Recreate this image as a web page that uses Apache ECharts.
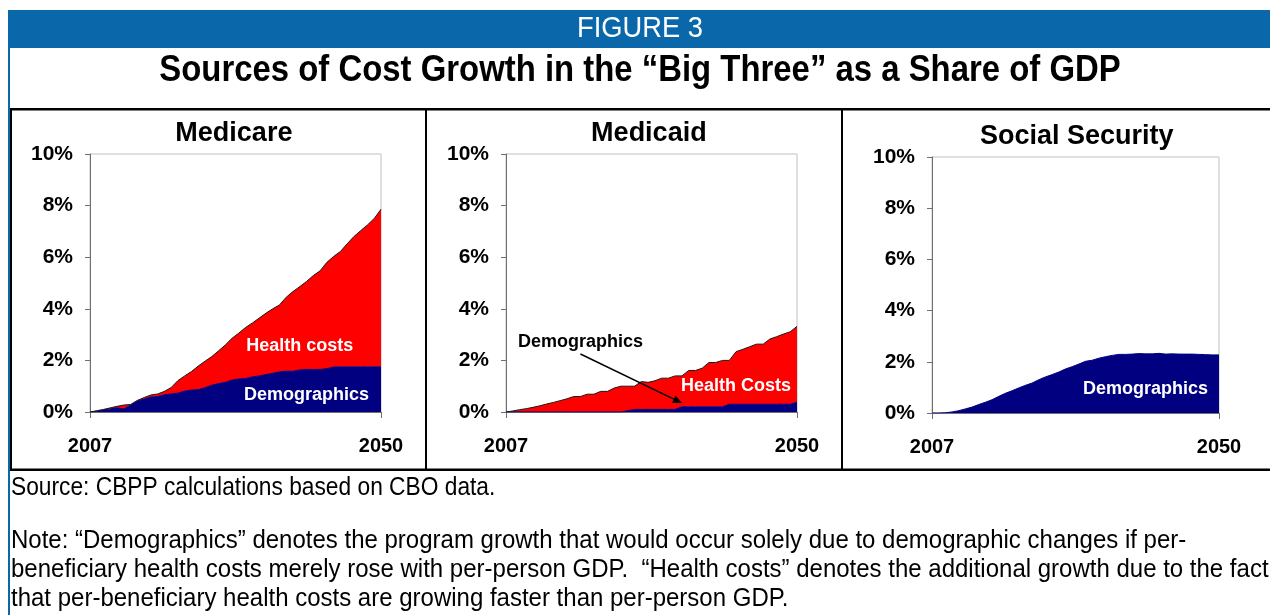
<!DOCTYPE html>
<html>
<head>
<meta charset="utf-8">
<script src="https://cdn.jsdelivr.net/npm/echarts@6/dist/echarts.min.js"></script>
<style>
  html, body { margin: 0; padding: 0; background: #fff; }
  #chart { width: 1270px; height: 615px; }
</style>
</head>
<body>
<div id="chart"></div>
<script>
// Years 2007 through 2050 (category axis)
const years = [];
for (let y = 2007; y <= 2050; y++) years.push(String(y));

// Percent of GDP axis
const yMin = 0, yMax = 10, yStep = 2;

// Medicare: growth from demographics and from excess health-cost growth (% of GDP)
const medicareDemographics = [
  0, 0.03, 0.08, 0.12, 0.16, 0.12, 0.27, 0.43, 0.50, 0.58,
  0.60, 0.67, 0.70, 0.73, 0.81, 0.85, 0.87, 0.94, 1.04, 1.10,
  1.15, 1.24, 1.28, 1.30, 1.36, 1.40, 1.45, 1.50, 1.56, 1.58,
  1.58, 1.63, 1.65, 1.65, 1.65, 1.68, 1.74, 1.75, 1.75, 1.75,
  1.75, 1.75, 1.75, 1.75
];
const medicareHealth = [
  0, 0.02, 0.02, 0.04, 0.06, 0.15, 0.02, 0.02, 0.06, 0.08,
  0.10, 0.13, 0.25, 0.49, 0.59, 0.72, 0.91, 1.03, 1.11, 1.27,
  1.45, 1.62, 1.78, 1.98, 2.09, 2.24, 2.38, 2.50, 2.59, 2.87,
  3.09, 3.23, 3.41, 3.64, 3.82, 4.12, 4.29, 4.47, 4.77, 5.05,
  5.28, 5.50, 5.75, 6.11
];

// Medicaid
const medicaidDemographics = [
  0, 0, 0, 0, 0, 0, 0, 0, 0, 0,
  0, 0, 0, 0, 0, 0, 0, 0, 0.05, 0.10,
  0.10, 0.10, 0.10, 0.10, 0.10, 0.10, 0.20, 0.20, 0.20, 0.20,
  0.20, 0.20, 0.20, 0.30, 0.30, 0.30, 0.30, 0.30, 0.30, 0.30,
  0.30, 0.30, 0.30, 0.38
];
const medicaidHealth = [
  0, 0.04, 0.09, 0.13, 0.18, 0.24, 0.31, 0.37, 0.44, 0.51,
  0.60, 0.60, 0.69, 0.69, 0.80, 0.80, 0.93, 1.00, 0.95, 0.90,
  1.08, 1.05, 1.11, 1.21, 1.21, 1.30, 1.20, 1.41, 1.41, 1.50,
  1.72, 1.72, 1.80, 1.70, 2.04, 2.13, 2.23, 2.33, 2.33, 2.53,
  2.62, 2.72, 2.81, 2.94
];

// Social Security (demographics only)
const socialSecurityDemographics = [
  0, 0, 0.01, 0.04, 0.09, 0.16, 0.23, 0.33, 0.42, 0.52,
  0.65, 0.77, 0.87, 0.98, 1.08, 1.17, 1.30, 1.41, 1.50, 1.60,
  1.72, 1.81, 1.91, 2.02, 2.06, 2.14, 2.20, 2.25, 2.29, 2.29,
  2.30, 2.32, 2.31, 2.31, 2.33, 2.30, 2.31, 2.30, 2.30, 2.30,
  2.29, 2.28, 2.27, 2.27
];

const panelTitles = ['Medicare', 'Medicaid', 'Social Security'];

const NAVY = '#000080';
const RED = '#ff0000';
const FONT = 'Liberation Sans, Arial, Helvetica, sans-serif';

const grids = [
  { left: 90, top: 154, width: 291, height: 258 },
  { left: 506, top: 154, width: 291, height: 258 },
  { left: 932, top: 157, width: 287, height: 256 }
];

const endsOnly = (idx) => idx === 0 || idx === years.length - 1;

function xAxisFor(i) {
  return {
    type: 'category', gridIndex: i, data: years, boundaryGap: false,
    axisLine: { lineStyle: { color: '#707070', width: 1 } },
    axisTick: { show: true, interval: endsOnly, length: 6, lineStyle: { color: '#707070' } },
    axisLabel: { interval: endsOnly, color: '#000', fontWeight: 'bold', fontSize: 20, fontFamily: FONT, margin: 24 },
    splitLine: { show: false }
  };
}
function yAxisFor(i) {
  return {
    type: 'value', gridIndex: i, min: yMin, max: yMax, interval: yStep,
    axisLine: { show: true, lineStyle: { color: '#707070', width: 1 } },
    axisTick: { show: true, length: 5, lineStyle: { color: '#707070' } },
    axisLabel: { formatter: '{value}%', color: '#000', fontWeight: 'bold', fontSize: 21, fontFamily: FONT, margin: 17 },
    splitLine: { show: false }
  };
}
function areaSeries(i, name, data, color, stack, edge) {
  return {
    type: 'line', name, xAxisIndex: i, yAxisIndex: i, stack, data,
    showSymbol: false, symbol: 'none', smooth: false,
    lineStyle: { color: edge, width: 1 },
    areaStyle: { color, opacity: 1 },
    z: 2
  };
}

// Text squeezed horizontally around its anchor point
function squeezed(text, x, y, font, sx, align, fill) {
  return {
    type: 'text', x, y, scaleX: sx, scaleY: 1,
    style: { text, x: 0, y: 0, textAlign: align, textVerticalAlign: 'middle', fill, font }
  };
}

// Frame, header and notes
const noteFont = '25px ' + FONT;
const noteSX = 0.96;
const staticGraphics = [
  { type: 'rect', shape: { x: 8, y: 10, width: 1262, height: 38 }, style: { fill: '#0a67aa' } },
  { type: 'rect', shape: { x: 8, y: 10, width: 2, height: 605 }, style: { fill: '#0a67aa' } },
  squeezed('FIGURE 3', 640, 29, '30px ' + FONT, 0.91, 'center', '#fff'),
  squeezed('Sources of Cost Growth in the \u201cBig Three\u201d as a Share of GDP', 640, 71, 'bold 37px ' + FONT, 0.889, 'center', '#000'),
  { type: 'rect', shape: { x: 10, y: 108, width: 1260, height: 2.5 }, style: { fill: '#000' } },
  { type: 'rect', shape: { x: 10, y: 108, width: 2, height: 363 }, style: { fill: '#000' } },
  { type: 'rect', shape: { x: 425, y: 108, width: 2, height: 363 }, style: { fill: '#000' } },
  { type: 'rect', shape: { x: 841, y: 108, width: 2, height: 363 }, style: { fill: '#000' } },
  { type: 'rect', shape: { x: 10, y: 468.5, width: 1260, height: 2.5 }, style: { fill: '#000' } },
  squeezed('Source: CBPP calculations based on CBO data.', 11, 488, noteFont, 0.91, 'left', '#000'),
  squeezed('Note: \u201cDemographics\u201d denotes the program growth that would occur solely due to demographic changes if per-', 11, 541, noteFont, noteSX, 'left', '#000'),
  squeezed('beneficiary health costs merely rose with per-person GDP.  \u201cHealth costs\u201d denotes the additional growth due to the fact', 11, 570, noteFont, noteSX, 'left', '#000'),
  squeezed('that per-beneficiary health costs are growing faster than per-person GDP.', 11, 599, noteFont, noteSX, 'left', '#000')
];

const chart = echarts.init(document.getElementById('chart'), null, { renderer: 'canvas' });

const option = {
  animation: false,
  backgroundColor: '#fff',
  grid: grids.map(g => Object.assign({ show: true, borderColor: '#c0c0c0', borderWidth: 1, backgroundColor: 'transparent', containLabel: false }, g)),
  xAxis: [0, 1, 2].map(xAxisFor),
  yAxis: [0, 1, 2].map(yAxisFor),
  series: [
    areaSeries(0, 'Demographics', medicareDemographics, NAVY, 'medicare', NAVY),
    areaSeries(0, 'Health costs', medicareHealth, RED, 'medicare', '#1a1a1a'),
    areaSeries(1, 'Demographics', medicaidDemographics, NAVY, 'medicaid', NAVY),
    areaSeries(1, 'Health Costs', medicaidHealth, RED, 'medicaid', '#1a1a1a'),
    areaSeries(2, 'Demographics', socialSecurityDemographics, NAVY, 'ss', NAVY)
  ],
  graphic: staticGraphics
};
chart.setOption(option);

// Panel titles and in-plot annotations, anchored in data coordinates
function px(grid, xIdx, val) {
  return chart.convertToPixel({ gridIndex: grid }, [xIdx, val]);
}
function label(grid, xIdx, val, text, fill, font) {
  const p = px(grid, xIdx, val);
  return { type: 'text', z: 10, style: { text, x: p[0], y: p[1], textAlign: 'center', textVerticalAlign: 'middle', fill, font } };
}
const annFont = 'bold 18px ' + FONT;
const titleFont = 'bold 27px ' + FONT;
const titleShift = [-5, -6, -2];
const extra = [];
grids.forEach((g, i) => {
  const p = px(i, (years.length - 1) / 2, yMax);
  extra.push({ type: 'text', z: 10, style: { text: panelTitles[i], x: p[0] + titleShift[i], y: p[1] - 20, textAlign: 'center', textVerticalAlign: 'middle', fill: '#000', font: titleFont } });
});
extra.push(label(0, 31.3, 2.56, 'Health costs', '#fff', annFont));
extra.push(label(0, 32.4, 0.66, 'Demographics', '#fff', annFont));
extra.push(label(1, 11.1, 2.71, 'Demographics', '#000', annFont));
extra.push(label(1, 34.1, 1.0, 'Health Costs', '#fff', annFont));
extra.push(label(2, 31.8, 0.94, 'Demographics', '#fff', annFont));

// Arrow from the Medicaid "Demographics" label down to its thin band
const a0 = px(1, 11.2, 2.25), a1 = px(1, 26.2, 0.35);
const ang = Math.atan2(a1[1] - a0[1], a1[0] - a0[0]);
const hl = 9, hw = 4;
const bx = a1[0] - hl * Math.cos(ang), by = a1[1] - hl * Math.sin(ang);
extra.push({ type: 'line', z: 10, shape: { x1: a0[0], y1: a0[1], x2: bx, y2: by }, style: { stroke: '#000', lineWidth: 1.5 } });
extra.push({ type: 'polygon', z: 10, shape: { points: [
  [a1[0], a1[1]],
  [bx - hw * Math.sin(ang), by + hw * Math.cos(ang)],
  [bx + hw * Math.sin(ang), by - hw * Math.cos(ang)]
] }, style: { fill: '#000' } });

chart.setOption({ graphic: staticGraphics.concat(extra) });
</script>
</body>
</html>
